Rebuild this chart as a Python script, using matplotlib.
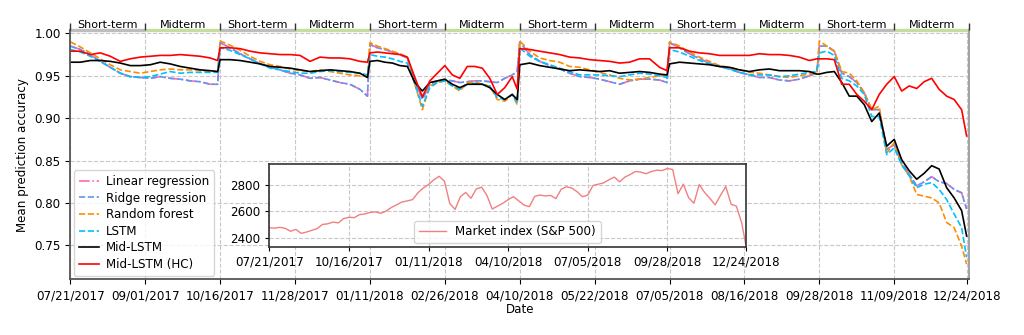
import matplotlib.pyplot as plt
import numpy as np

# trading-day index of each sample (0 = 07/21/2017, 359 = 12/24/2018)
calm = list(range(0, 57, 4)) + [59]
busy = list(range(0, 58, 3)) + [59]
day = ([d for d in calm] + [60 + d for d in calm] + [120 + d for d in busy] +
       [180 + d for d in calm] + [240 + d for d in calm] + [300 + d for d in busy])

linear_reg = [0.985, 0.981, 0.975, 0.967, 0.960, 0.953, 0.949, 0.948, 0.947, 0.949, 0.947, 0.946, 0.944, 0.943, 0.940, 0.940,
              0.989, 0.983, 0.976, 0.970, 0.964, 0.960, 0.957, 0.953, 0.951, 0.947, 0.948, 0.945, 0.942, 0.940, 0.934, 0.926,
              0.987, 0.983, 0.981, 0.978, 0.975, 0.971, 0.944, 0.922, 0.940, 0.944, 0.945, 0.944, 0.942, 0.943, 0.944, 0.944,
              0.943, 0.942, 0.947, 0.951, 0.955,
              0.990, 0.975, 0.967, 0.962, 0.958, 0.953, 0.949, 0.948, 0.946, 0.943, 0.940, 0.944, 0.946, 0.946, 0.945, 0.942,
              0.989, 0.983, 0.976, 0.970, 0.965, 0.961, 0.958, 0.954, 0.951, 0.948, 0.948, 0.945, 0.944, 0.946, 0.950, 0.953,
              0.985, 0.985, 0.979, 0.953, 0.949, 0.942, 0.930, 0.910, 0.910, 0.863, 0.869, 0.847, 0.834, 0.820, 0.825, 0.831,
              0.825, 0.823, 0.816, 0.812, 0.793]
# ridge regression lies on top of linear regression in the reference
ridge_reg = list(linear_reg)
random_forest = [0.990, 0.984, 0.977, 0.970, 0.963, 0.957, 0.955, 0.953, 0.955, 0.957, 0.958, 0.957, 0.957, 0.956, 0.955, 0.955,
                 0.991, 0.986, 0.980, 0.973, 0.967, 0.963, 0.961, 0.958, 0.956, 0.955, 0.957, 0.955, 0.953, 0.951, 0.950, 0.949,
                 0.989, 0.985, 0.982, 0.979, 0.976, 0.972, 0.940, 0.910, 0.938, 0.942, 0.944, 0.938, 0.932, 0.942, 0.943, 0.940,
                 0.938, 0.922, 0.920, 0.928, 0.916,
                 0.991, 0.979, 0.971, 0.968, 0.966, 0.961, 0.960, 0.957, 0.954, 0.951, 0.947, 0.945, 0.946, 0.948, 0.950, 0.951,
                 0.990, 0.985, 0.978, 0.972, 0.967, 0.962, 0.960, 0.957, 0.954, 0.953, 0.951, 0.949, 0.948, 0.950, 0.952, 0.953,
                 0.991, 0.985, 0.979, 0.955, 0.953, 0.944, 0.930, 0.910, 0.914, 0.859, 0.871, 0.845, 0.832, 0.810, 0.808, 0.806,
                 0.800, 0.777, 0.771, 0.749, 0.728]
lstm = [0.981, 0.978, 0.973, 0.967, 0.960, 0.953, 0.949, 0.948, 0.949, 0.952, 0.955, 0.953, 0.954, 0.954, 0.954, 0.954,
        0.983, 0.980, 0.975, 0.970, 0.964, 0.959, 0.957, 0.955, 0.953, 0.953, 0.955, 0.956, 0.955, 0.954, 0.953, 0.951,
        0.975, 0.973, 0.972, 0.970, 0.967, 0.965, 0.940, 0.914, 0.936, 0.942, 0.944, 0.938, 0.934, 0.940, 0.941, 0.940,
        0.938, 0.924, 0.922, 0.928, 0.918,
        0.983, 0.973, 0.967, 0.963, 0.959, 0.955, 0.951, 0.951, 0.951, 0.950, 0.949, 0.951, 0.953, 0.952, 0.950, 0.948,
        0.981, 0.978, 0.973, 0.968, 0.964, 0.961, 0.958, 0.954, 0.951, 0.951, 0.951, 0.949, 0.950, 0.952, 0.954, 0.955,
        0.977, 0.979, 0.974, 0.947, 0.944, 0.938, 0.928, 0.902, 0.902, 0.857, 0.865, 0.845, 0.832, 0.818, 0.822, 0.824,
        0.816, 0.804, 0.787, 0.771, 0.736]
mid_lstm = [0.966, 0.966, 0.968, 0.968, 0.967, 0.965, 0.962, 0.962, 0.963, 0.966, 0.964, 0.961, 0.959, 0.957, 0.956, 0.955,
            0.969, 0.969, 0.968, 0.966, 0.964, 0.961, 0.960, 0.959, 0.957, 0.955, 0.956, 0.957, 0.956, 0.955, 0.953, 0.948,
            0.967, 0.968, 0.966, 0.965, 0.962, 0.961, 0.942, 0.932, 0.942, 0.944, 0.946, 0.940, 0.936, 0.940, 0.940, 0.940,
            0.936, 0.928, 0.922, 0.928, 0.922,
            0.963, 0.965, 0.962, 0.960, 0.958, 0.956, 0.957, 0.956, 0.955, 0.956, 0.953, 0.954, 0.955, 0.954, 0.952, 0.951,
            0.964, 0.966, 0.965, 0.964, 0.963, 0.961, 0.960, 0.957, 0.955, 0.957, 0.958, 0.956, 0.956, 0.956, 0.955, 0.952,
            0.952, 0.954, 0.955, 0.942, 0.926, 0.926, 0.916, 0.896, 0.906, 0.867, 0.875, 0.851, 0.838, 0.828, 0.835, 0.844,
            0.840, 0.818, 0.806, 0.791, 0.761]
mid_lstm_hc = [0.979, 0.979, 0.975, 0.977, 0.973, 0.967, 0.970, 0.972, 0.973, 0.974, 0.974, 0.975, 0.974, 0.973, 0.971, 0.968,
               0.983, 0.983, 0.982, 0.979, 0.977, 0.976, 0.975, 0.975, 0.974, 0.967, 0.972, 0.971, 0.971, 0.970, 0.967, 0.966,
               0.977, 0.978, 0.977, 0.976, 0.975, 0.972, 0.948, 0.925, 0.944, 0.953, 0.962, 0.951, 0.947, 0.961, 0.961, 0.959,
               0.947, 0.928, 0.936, 0.949, 0.934,
               0.982, 0.981, 0.979, 0.977, 0.975, 0.972, 0.971, 0.969, 0.968, 0.967, 0.965, 0.966, 0.970, 0.970, 0.960, 0.956,
               0.983, 0.983, 0.979, 0.977, 0.976, 0.974, 0.974, 0.974, 0.974, 0.976, 0.975, 0.975, 0.974, 0.972, 0.968, 0.970,
               0.970, 0.970, 0.969, 0.940, 0.940, 0.928, 0.920, 0.910, 0.928, 0.940, 0.949, 0.932, 0.938, 0.935, 0.943, 0.947,
               0.934, 0.926, 0.922, 0.910, 0.879]

# S&P 500 close for the inset
sp_day = list(range(0, 357, 4)) + [359]
sp500 = [2475, 2472, 2478, 2470, 2448, 2462, 2432, 2442, 2455, 2468, 2500, 2505, 2518, 2512, 2545, 2555,
         2552, 2575, 2580, 2592, 2596, 2585, 2602, 2630, 2650, 2672, 2680, 2690, 2742, 2778, 2805, 2842,
         2868, 2830, 2660, 2615, 2712, 2745, 2700, 2772, 2785, 2722, 2618, 2640, 2662, 2690, 2712, 2680,
         2648, 2636, 2715, 2725, 2718, 2722, 2698, 2770, 2788, 2778, 2750, 2712, 2725, 2798, 2808, 2818,
         2842, 2862, 2826, 2862, 2882, 2905, 2900, 2888, 2905, 2915, 2912, 2928, 2920, 2735, 2808, 2705,
         2662, 2805, 2745, 2700, 2650, 2722, 2790, 2655, 2640, 2512, 2350]

main_ticks = list(range(0, 331, 30)) + [359]
main_labels = ['07/21/2017', '09/01/2017', '10/16/2017', '11/28/2017', '01/11/2018', '02/26/2018',
               '04/10/2018', '05/22/2018', '07/05/2018', '08/16/2018', '09/28/2018', '11/09/2018', '12/24/2018']
inset_ticks = list(range(0, 301, 60)) + [359]
inset_labels = ['07/21/2017', '10/16/2017', '01/11/2018', '04/10/2018', '07/05/2018', '09/28/2018', '12/24/2018']
periods = ['Short-term', 'Midterm'] * 6

fs = 8.6
fig = plt.figure(figsize=(10.24, 3.35), dpi=100)
ax = fig.add_axes([0.0687, 0.1663, 0.8777, 0.7442])

series = [
    (linear_reg, 'Linear regression', '#ff69b4', '-.'),
    (ridge_reg, 'Ridge regression', '#6495ed', '--'),
    (random_forest, 'Random forest', 'darkorange', '--'),
    (lstm, 'LSTM', 'deepskyblue', '--'),
    (mid_lstm, 'Mid-LSTM', 'black', '-'),
    (mid_lstm_hc, 'Mid-LSTM (HC)', 'red', '-'),
]
for vals, lab, col, ls in series:
    ax.plot(day, vals, ls, color=col, lw=1.2, label=lab)

ax.set_xlim(0, 360)
ax.set_ylim(0.71, 1.004)
ax.set_yticks([0.75, 0.80, 0.85, 0.90, 0.95, 1.00])
ax.set_xticks(main_ticks)
ax.set_xticklabels(main_labels)
ax.tick_params(labelsize=fs, length=3.5)
ax.grid(True, ls='--', color='#c8c8c8', lw=0.8)
ax.set_ylabel('Mean prediction accuracy', fontsize=fs)
ax.set_xlabel('Date', fontsize=fs, labelpad=1)
for s in ['left', 'bottom', 'right']:
    ax.spines[s].set_color('#555555')
    ax.spines[s].set_linewidth(1.3)
ax.spines['right'].set_color('#999999')
ax.spines['top'].set_visible(False)

ax.legend(loc='lower left', fontsize=fs, borderaxespad=0.3, labelspacing=0.3,
          handlelength=1.7, handletextpad=0.6, borderpad=0.4)

# short-term / midterm bands along the top
for k in range(12):
    col = '#bdbdbd' if k % 2 == 0 else '#c5dea0'
    ax.plot([30 * k, 30 * k + 30], [1, 1], color=col, lw=2.4, solid_capstyle='butt',
            transform=ax.get_xaxis_transform(), clip_on=False)
top = ax.twiny()
top.set_xlim(ax.get_xlim())
top.set_xticks(range(0, 361, 30))
top.set_xticklabels([])
top.set_xticks(range(15, 360, 30), minor=True)
top.set_xticklabels(periods, minor=True, fontsize=8)
top.tick_params(which='major', length=5, width=1, color='#333333')
top.tick_params(which='minor', length=0, pad=0)
for s in top.spines.values():
    s.set_visible(False)

# inset with the market index
ins = fig.add_axes([0.263, 0.2636, 0.4652, 0.246])
ins.plot(sp_day, sp500, color='#f08080', lw=1, label='Market index (S&P 500)')
ins.set_xlim(0, 359)
ins.set_ylim(2330, 2960)
ins.set_yticks([2400, 2600, 2800])
ins.set_xticks(inset_ticks)
ins.set_xticklabels(inset_labels)
ins.tick_params(labelsize=fs, length=3)
ins.grid(True, ls='--', color='#c8c8c8', lw=0.8)
for s in ins.spines.values():
    s.set_color('#333333')
    s.set_linewidth(1.2)
ins.legend(loc='lower center', fontsize=fs, borderaxespad=0.3, handlelength=2.2, borderpad=0.4)

fig.savefig('out.png', dpi=100)
